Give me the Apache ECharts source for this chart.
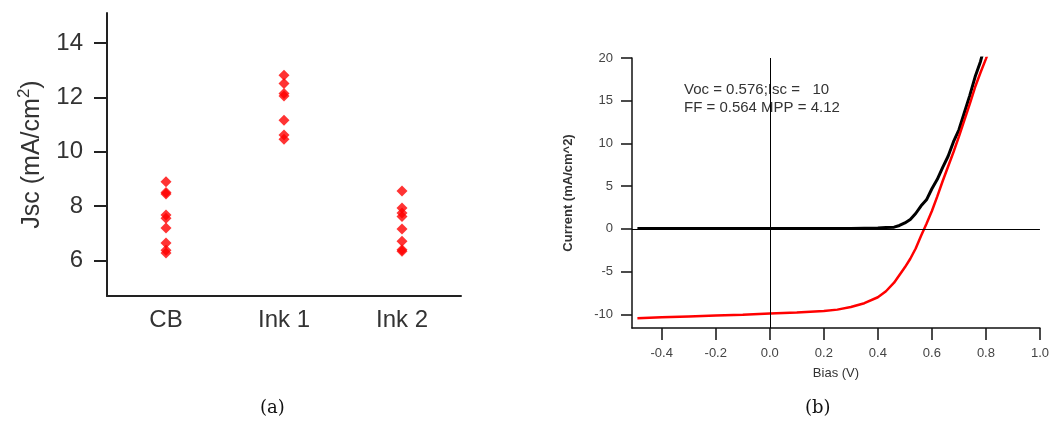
<!DOCTYPE html>
<html lang="en">
<head>
    <meta charset="UTF-8">
    <title>Jsc and J-V</title>
    <style>
        * {
            margin: 0;
        }

        body {
            background: #fff;
        }

        #main {
            width: 1052px;
            height: 423px;
        }
    </style>
    <script src="https://cdn.jsdelivr.net/npm/echarts@6/dist/echarts.min.js"></script>
</head>
<body>
<div id="main"></div>
<script>
    // (a) Jsc per ink
    var inks = ['CB', 'Ink 1', 'Ink 2'];
    var cbJsc = [8.9, 8.5, 8.45, 7.68, 7.56, 7.2, 6.65, 6.38, 6.28];
    var ink1Jsc = [12.81, 12.51, 12.14, 12.05, 11.16, 10.62, 10.46];
    var ink2Jsc = [8.56, 7.93, 7.75, 7.62, 7.16, 6.71, 6.4, 6.34];
    var jscTicks = [6, 8, 10, 12, 14];

    // (b) J-V curves
    var bias = [-0.49, -0.4, -0.3, -0.2, -0.1, 0, 0.1, 0.2, 0.25, 0.3, 0.35, 0.4, 0.43, 0.46, 0.48, 0.5,
        0.52, 0.54, 0.56, 0.58, 0.6, 0.62, 0.64, 0.66, 0.68, 0.7, 0.72, 0.74, 0.76, 0.78, 0.8, 0.82];
    var darkJ = [0.05, 0.05, 0.05, 0.05, 0.05, 0.05, 0.05, 0.05, 0.05, 0.05, 0.08, 0.1, 0.15, 0.2, 0.4, 0.7,
        1.1, 1.8, 2.7, 3.4, 4.7, 5.8, 7.2, 8.5, 10.2, 11.6, 13.6, 15.6, 17.8, 19.6, 22, 24];
    var lightJ = [-10.45, -10.35, -10.25, -10.15, -10.05, -9.9, -9.8, -9.6, -9.45, -9.15, -8.7, -8.0, -7.3, -6.3, -5.4, -4.5,
        -3.5, -2.3, -0.8, 0.6, 2.1, 3.8, 5.6, 7.3, 9.0, 10.8, 12.7, 14.6, 16.6, 18.3, 19.9, 21.6];
    var biasTicks = [-0.4, -0.2, 0, 0.2, 0.4, 0.6, 0.8, 1.0];
    var currentTicks = [-10, -5, 0, 5, 10, 15, 20];

    function catPoints(name, vals) {
        return vals.map(function (v) { return [name, v]; });
    }
    function pairs(xs, ys) {
        return xs.map(function (x, i) { return [x, ys[i]]; });
    }

    var myChart = echarts.init(document.getElementById('main'));

    var sans = 'Liberation Sans, Arial, sans-serif';

    option = {
        animation: false,
        textStyle: {fontFamily: sans},
        grid: [
            {left: 107, width: 354, top: 13, height: 283},
            {left: 632, width: 411, top: 58, height: 270}
        ],
        xAxis: [
            {
                gridIndex: 0,
                type: 'category',
                data: inks,
                axisLine: {lineStyle: {color: '#222', width: 2}},
                axisTick: {show: false},
                axisLabel: {color: '#333', fontSize: 24, margin: 12}
            },
            {
                gridIndex: 1,
                type: 'value',
                min: -0.51,
                max: 1.0,
                name: 'Bias (V)',
                nameLocation: 'middle',
                nameGap: 39,
                nameTextStyle: {color: '#333', fontSize: 13},
                splitLine: {show: false},
                axisLine: {onZero: false, lineStyle: {color: '#111', width: 1.5}},
                axisTick: {length: 12, customValues: biasTicks, lineStyle: {width: 1.5}},
                axisLabel: {
                    color: '#444', fontSize: 13, margin: 19, customValues: biasTicks,
                    formatter: function (v) { return v.toFixed(1); }
                }
            }
        ],
        yAxis: [
            {
                gridIndex: 0,
                type: 'value',
                min: 4.7,
                max: 15.1,
                name: '{a|Jsc (mA/cm}{s|2}{a|)}',
                nameLocation: 'middle',
                nameGap: 58,
                nameTextStyle: {
                    rich: {
                        a: {color: '#333', fontSize: 25},
                        s: {color: '#333', fontSize: 17, padding: [0, 0, 16, 0]}
                    }
                },
                splitLine: {show: false},
                axisLine: {show: true, lineStyle: {color: '#222', width: 2}},
                axisTick: {show: true, length: 13, customValues: jscTicks, lineStyle: {width: 2}},
                axisLabel: {color: '#333', fontSize: 24, margin: 24, customValues: jscTicks}
            },
            {
                gridIndex: 1,
                type: 'value',
                min: -11.6,
                max: 20,
                name: 'Current (mA/cm^2)',
                nameLocation: 'middle',
                nameGap: 57,
                nameTextStyle: {color: '#333', fontSize: 13, fontWeight: 'bold'},
                splitLine: {show: false},
                axisLine: {show: true, onZero: false, lineStyle: {color: '#111', width: 1.5}},
                axisTick: {show: true, length: 11, customValues: currentTicks, lineStyle: {width: 1.5}},
                axisLabel: {color: '#444', fontSize: 13, margin: 19, customValues: currentTicks}
            }
        ],
        series: [
            {
                type: 'scatter',
                xAxisIndex: 0, yAxisIndex: 0,
                symbol: 'diamond',
                symbolSize: [11, 11],
                itemStyle: {color: '#ff0000'},
                data: catPoints(inks[0], cbJsc)
                    .concat(catPoints(inks[1], ink1Jsc))
                    .concat(catPoints(inks[2], ink2Jsc))
            },
            {
                type: 'line',
                xAxisIndex: 1, yAxisIndex: 1,
                showSymbol: false,
                clip: true,
                lineStyle: {color: '#000', width: 3},
                data: pairs(bias, darkJ),
                markLine: {
                    silent: true,
                    symbol: 'none',
                    label: {show: false},
                    lineStyle: {color: '#000', width: 1, type: 'solid'},
                    data: [{xAxis: 0}, {yAxis: 0}]
                }
            },
            {
                type: 'line',
                xAxisIndex: 1, yAxisIndex: 1,
                showSymbol: false,
                clip: true,
                lineStyle: {color: '#ff0000', width: 2.5},
                data: pairs(bias, lightJ)
            }
        ],
        graphic: [
            {
                type: 'text', left: 684, top: 81,
                style: {
                    text: 'Voc = 0.576;Isc =   10\nFF = 0.564 MPP = 4.12',
                    font: '15px ' + sans, fill: '#333', lineHeight: 18
                }
            },
            {
                type: 'text', left: 260, top: 399,
                style: {text: '(a)', font: '18px DejaVu Serif, serif', fill: '#111'}
            },
            {
                type: 'text', left: 805, top: 399,
                style: {text: '(b)', font: '18px DejaVu Serif, serif', fill: '#111'}
            }
        ]
    };
    myChart.setOption(option);
</script>
</body>
</html>
